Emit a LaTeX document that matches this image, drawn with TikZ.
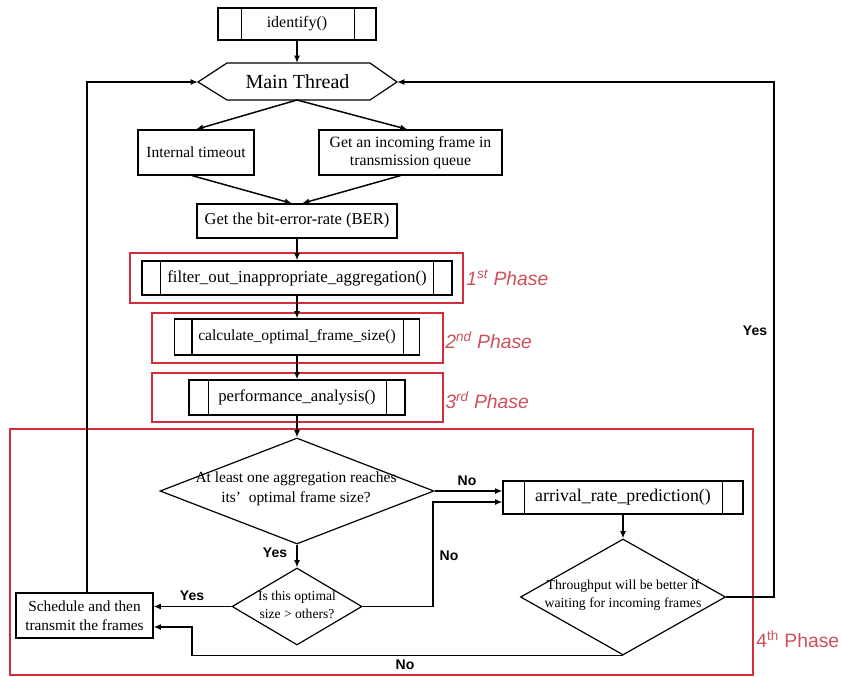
\documentclass[tikz,border=0pt]{standalone}
\usepackage{fontspec}
\setmainfont{Liberation Serif}
\newfontfamily\labfont{Liberation Sans}
\usetikzlibrary{arrows.meta,shapes.geometric,calc}
\definecolor{phred}{RGB}{212,45,58}
\definecolor{phtext}{RGB}{205,80,92}
\newcommand\procbars[3]{%
  \draw[line width=0.9pt] ($(#1.north west)+(#2,0)$) -- ($(#1.south west)+(#2,0)$);
  \draw[line width=0.9pt] ($(#1.north east)+(-#3,0)$) -- ($(#1.south east)+(-#3,0)$);}
\begin{document}
\begin{tikzpicture}[x=0.75pt,y=-0.75pt,
  box/.style={draw, line width=0.9pt, inner sep=0pt, align=center, font=\fontsize{12}{14}\selectfont},
  redbox/.style={draw=phred, line width=1.3pt, inner sep=0pt},
  dia/.style={draw, diamond, inner sep=0pt, line width=0.9pt},
  diatext/.style={align=center, inner sep=0pt},
  flow/.style={line width=1.1pt, -{Latex[length=5.5pt,width=4.5pt]}},
  yn/.style={font=\labfont\bfseries\fontsize{10.5}{12}\selectfont},
  phase/.style={font=\labfont\itshape\fontsize{14.5}{16}\selectfont, text=phtext, anchor=west, inner sep=0pt}]
\useasboundingbox (0,0) rectangle (841,677);

% top
\node[box, minimum width=118.5pt, minimum height=24pt] (ident) at (297,24) {identify()};
\procbars{ident}{24}{22}

\coordinate (hexL) at (198,82);
\coordinate (hexR) at (397,82);
\coordinate (hexT) at (297,63);
\coordinate (hexB) at (297,100);
\draw[line width=0.9pt] (hexL) -- (227,63) -- (370,63) -- (hexR) -- (370,100) -- (227,100) -- cycle;
\node[font=\fontsize{15}{17}\selectfont] (main) at (297.5,82) {Main Thread};

\node[box, minimum width=87pt, minimum height=33.75pt, font=\fontsize{11.6}{14}\selectfont] (tmo) at (196,152.5) {Internal timeout};
\node[box, minimum width=137.25pt, minimum height=33.75pt, font=\fontsize{11.8}{14}\selectfont] (inc) at (410.5,152.5) {Get an incoming frame in\\transmission queue};
\node[box, minimum width=150pt, minimum height=25.5pt, font=\fontsize{12.4}{14}\selectfont] (ber) at (297,221) {Get the bit-error-rate (BER)};

% phases 1-3
\node[redbox, minimum width=249.75pt, minimum height=37.5pt] (p1) at (296.5,278) {};
\node[box, minimum width=232.5pt, minimum height=25.5pt, font=\fontsize{12.6}{14}\selectfont] (filt) at (297,278) {filter\_out\_inappropriate\_aggregation()};
\procbars{filt}{19}{19}

\node[redbox, minimum width=218.25pt, minimum height=37.5pt] (p2) at (297.5,338) {};
\node[box, minimum width=183.75pt, minimum height=27pt, font=\fontsize{11.7}{14}\selectfont] (calc) at (297,337) {calculate\_optimal\_frame\_size()};
\procbars{calc}{18}{17}

\node[redbox, minimum width=218.25pt, minimum height=36.75pt] (p3) at (297.5,397.5) {};
\node[box, minimum width=162pt, minimum height=26.25pt, font=\fontsize{12.5}{14}\selectfont] (perf) at (297,397.5) {performance\_analysis()};
\procbars{perf}{20}{19}

% phase 4
\node[redbox, minimum width=557.25pt, minimum height=184.5pt] (p4) at (381.5,552) {};

\node[dia, minimum width=205.5pt, minimum height=79.5pt] (d1) at (297,491) {};
\node[diatext, font=\fontsize{11.6}{15}\selectfont] (d1t) at (296,489) {At least one aggregation reaches\\its’~~optimal frame size?};

\node[dia, minimum width=97.5pt, minimum height=57.75pt] (d2) at (297,606.5) {};
\node[diatext, font=\fontsize{10.2}{13}\selectfont] (d2t) at (297,605) {Is this optimal\\size > others?};

\node[box, minimum width=180pt, minimum height=24.75pt, font=\fontsize{13.4}{15}\selectfont] (arr) at (623,497.5) {arrival\_rate\_prediction()};
\procbars{arr}{22}{21}

\node[dia, minimum width=153.75pt, minimum height=87pt] (d3) at (623,597) {};
\node[diatext, font=\fontsize{10.3}{13}\selectfont] (d3t) at (623,595) {Throughput will be better if\\waiting for incoming frames};

\node[box, minimum width=102.75pt, minimum height=33.75pt, font=\fontsize{11.5}{14}\selectfont] (sched) at (84.5,615.5) {Schedule and then\\transmit the frames};

% connectors
\draw[flow] (ident.south) -- (hexT);
\draw[flow] (hexB) -- (tmo.north);
\draw[flow] (hexB) -- ($(inc.north)+(-3,0)$);
\draw[flow] ($(tmo.south)+(-4,0)$) -- ($(ber.north)+(-5,0)$);
\draw[flow] ($(inc.south)+(-10,0)$) -- ($(ber.north)+(5,0)$);
\draw[flow] (ber.south) -- (filt.north);
\draw[flow] (filt.south) -- (calc.north);
\draw[flow] (calc.south) -- (perf.north);
\draw[flow] (perf.south) -- (d1.north);

\draw[flow] (d1.east) -- (d1.east -| arr.west);
\node[yn] (no1) at (467,481) {No};

\coordinate (nj) at (433,502);
\draw[flow] (d2.east) -| (nj) -- (nj -| arr.west);
\node[yn] (no2) at (449,556) {No};

\draw[flow] (d1.south) -- (d2.north);
\node[yn] (yes1) at (275,553) {Yes};

\draw[flow] (d2.west) -- (d2.west -| sched.east);
\node[yn] (yes2) at (192,596) {Yes};

\draw[flow] (arr.south) -- (d3.north);

\coordinate (nbl) at (192,627);
\draw[flow] (d3.south) -| (nbl) -- (nbl -| sched.east);
\node[yn] (no3) at (405,665) {No};

\coordinate (yr) at (774,82);
\draw[flow] (d3.east) -| (yr) -- (hexR);
\node[yn] (yes3) at (755,331) {Yes};

\coordinate (yl) at (87,82);
\draw[flow] (yl |- sched.north) -- (yl) -- (hexL);

% phase labels
\node[phase] (ph1) at (466,278) {1\textsuperscript{st} Phase};
\node[phase] (ph2) at (445,340) {2\textsuperscript{nd} Phase};
\node[phase] (ph3) at (445,400) {3\textsuperscript{rd} Phase};
\node[phase, font=\labfont\fontsize{14.5}{16}\selectfont] (ph4) at (756,639) {4\textsuperscript{th} Phase};
\end{tikzpicture}
\end{document}
